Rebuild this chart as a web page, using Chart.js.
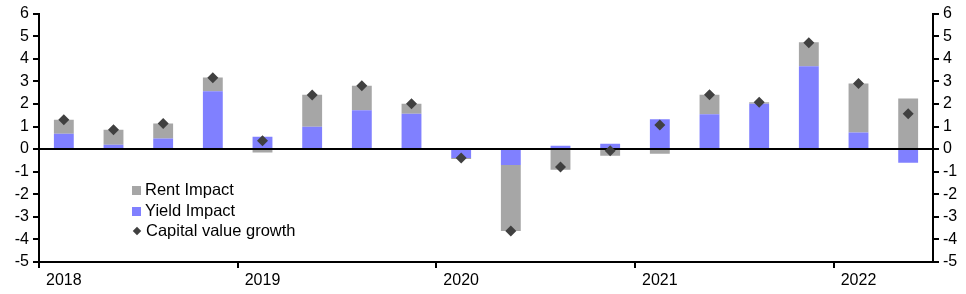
<!DOCTYPE html>
<html>
<head>
<meta charset="utf-8">
<script src="https://cdn.jsdelivr.net/npm/chart.js@4.4.1/dist/chart.umd.min.js"></script>
<style>
  body { margin: 0; background: #fff; }
  .wrap { position: relative; width: 966px; height: 294px; }
  .legend { position: absolute; left: 132px; top: 179px; font: 16.5px "Liberation Sans", Arial, sans-serif; color: #000; }
  .legend div { height: 20.5px; line-height: 20.5px; white-space: nowrap; }
  .legend span { display: inline-block; width: 9px; height: 9px; margin-right: 4px; vertical-align: 0px; }
  .legend .dia { width: 6px; height: 6px; transform: rotate(45deg); margin: 0 6px 0 2px; vertical-align: 2px; }
</style>
</head>
<body>
<div class="wrap">
  <canvas id="myChart" width="966" height="294"></canvas>
  <div class="legend">
    <div><span style="background:#a6a6a6"></span>Rent Impact</div>
    <div><span style="background:#8080ff"></span>Yield Impact</div>
    <div><span class="dia" style="background:#404040"></span>Capital value growth</div>
  </div>
</div>
<script>
const quarters = ['2018 Q1', '2018 Q2', '2018 Q3', '2018 Q4', '2019 Q1', '2019 Q2', '2019 Q3', '2019 Q4',
  '2020 Q1', '2020 Q2', '2020 Q3', '2020 Q4', '2021 Q1', '2021 Q2', '2021 Q3', '2021 Q4', '2022 Q1', '2022 Q2'];
const yearLabels = ['2018', '', '', '', '2019', '', '', '', '2020', '', '', '', '2021', '', '', '', '2022', ''];
const yieldImpact = [0.68, 0.19, 0.47, 2.56, 0.55, 0.99, 1.72, 1.57, -0.40, -0.70, 0.15, 0.24, 1.32, 1.54, 2.01, 3.67, 0.74, -0.61];
const rentImpact = [0.62, 0.67, 0.66, 0.61, -0.15, 1.42, 1.09, 0.44, -0.04, -2.93, -0.92, -0.30, -0.21, 0.87, 0.06, 1.06, 2.16, 2.24];
const capitalGrowth = [1.30, 0.86, 1.13, 3.16, 0.37, 2.40, 2.81, 2.01, -0.40, -3.63, -0.79, -0.07, 1.07, 2.41, 2.07, 4.71, 2.90, 1.56];
const yTicks = [-5, -4, -3, -2, -1, 0, 1, 2, 3, 4, 5, 6];

const font = { family: '"Liberation Sans", Arial, sans-serif', size: 16 };

const ctx = document.getElementById('myChart');
new Chart(ctx, {
  type: 'bar',
  data: {
    labels: quarters,
    datasets: [
      {
        type: 'line',
        label: 'Capital value growth',
        data: capitalGrowth,
        showLine: false,
        pointStyle: 'rectRot',
        pointRadius: 5.5,
        pointBackgroundColor: '#404040',
        pointBorderWidth: 0,
        order: 0
      },
      {
        label: 'Yield Impact',
        data: yieldImpact,
        backgroundColor: '#8080ff',
        stack: 's',
        barPercentage: 0.8,
        categoryPercentage: 0.5,
        order: 1
      },
      {
        label: 'Rent Impact',
        data: rentImpact,
        backgroundColor: '#a6a6a6',
        stack: 's',
        barPercentage: 0.8,
        categoryPercentage: 0.5,
        order: 1
      }
    ]
  },
  options: {
    responsive: false,
    animation: false,
    layout: { padding: { top: 13, left: 0, right: 0, bottom: 0 } },
    plugins: { legend: { display: false }, tooltip: { enabled: false } },
    scales: {
      x: {
        stacked: true,
        offset: true,
        border: { color: '#000', width: 2 },
        grid: {
          offset: true,
          drawOnChartArea: false,
          tickLength: 6,
          lineWidth: 2,
          tickColor: (c) => (c.index % 4 === 0 ? '#000' : 'rgba(0,0,0,0)')
        },
        ticks: {
          autoSkip: false,
          maxRotation: 0,
          padding: 3,
          color: '#000',
          font: font,
          callback: (v, i) => yearLabels[i]
        },
        afterFit: (s) => { s.height = 32; }
      },
      y: {
        stacked: true,
        position: 'left',
        min: -5,
        max: 6,
        afterBuildTicks: (s) => { s.ticks = yTicks.map((v) => ({ value: v })); },
        border: { color: '#000', width: 2 },
        grid: {
          color: (c) => (c.tick && c.tick.value === 0 ? '#000' : 'rgba(0,0,0,0)'),
          lineWidth: 2,
          tickColor: '#000',
          tickLength: 6
        },
        ticks: { color: '#000', font: font, padding: 4 },
        afterFit: (s) => { s.width = 39; }
      },
      y2: {
        position: 'right',
        min: -5,
        max: 6,
        afterBuildTicks: (s) => { s.ticks = yTicks.map((v) => ({ value: v })); },
        border: { color: '#000', width: 2 },
        grid: { drawOnChartArea: false, tickColor: '#000', tickLength: 6, lineWidth: 2 },
        ticks: { color: '#000', font: font, padding: 4 },
        afterFit: (s) => { s.width = 33; }
      }
    }
  }
});
</script>
</body>
</html>
